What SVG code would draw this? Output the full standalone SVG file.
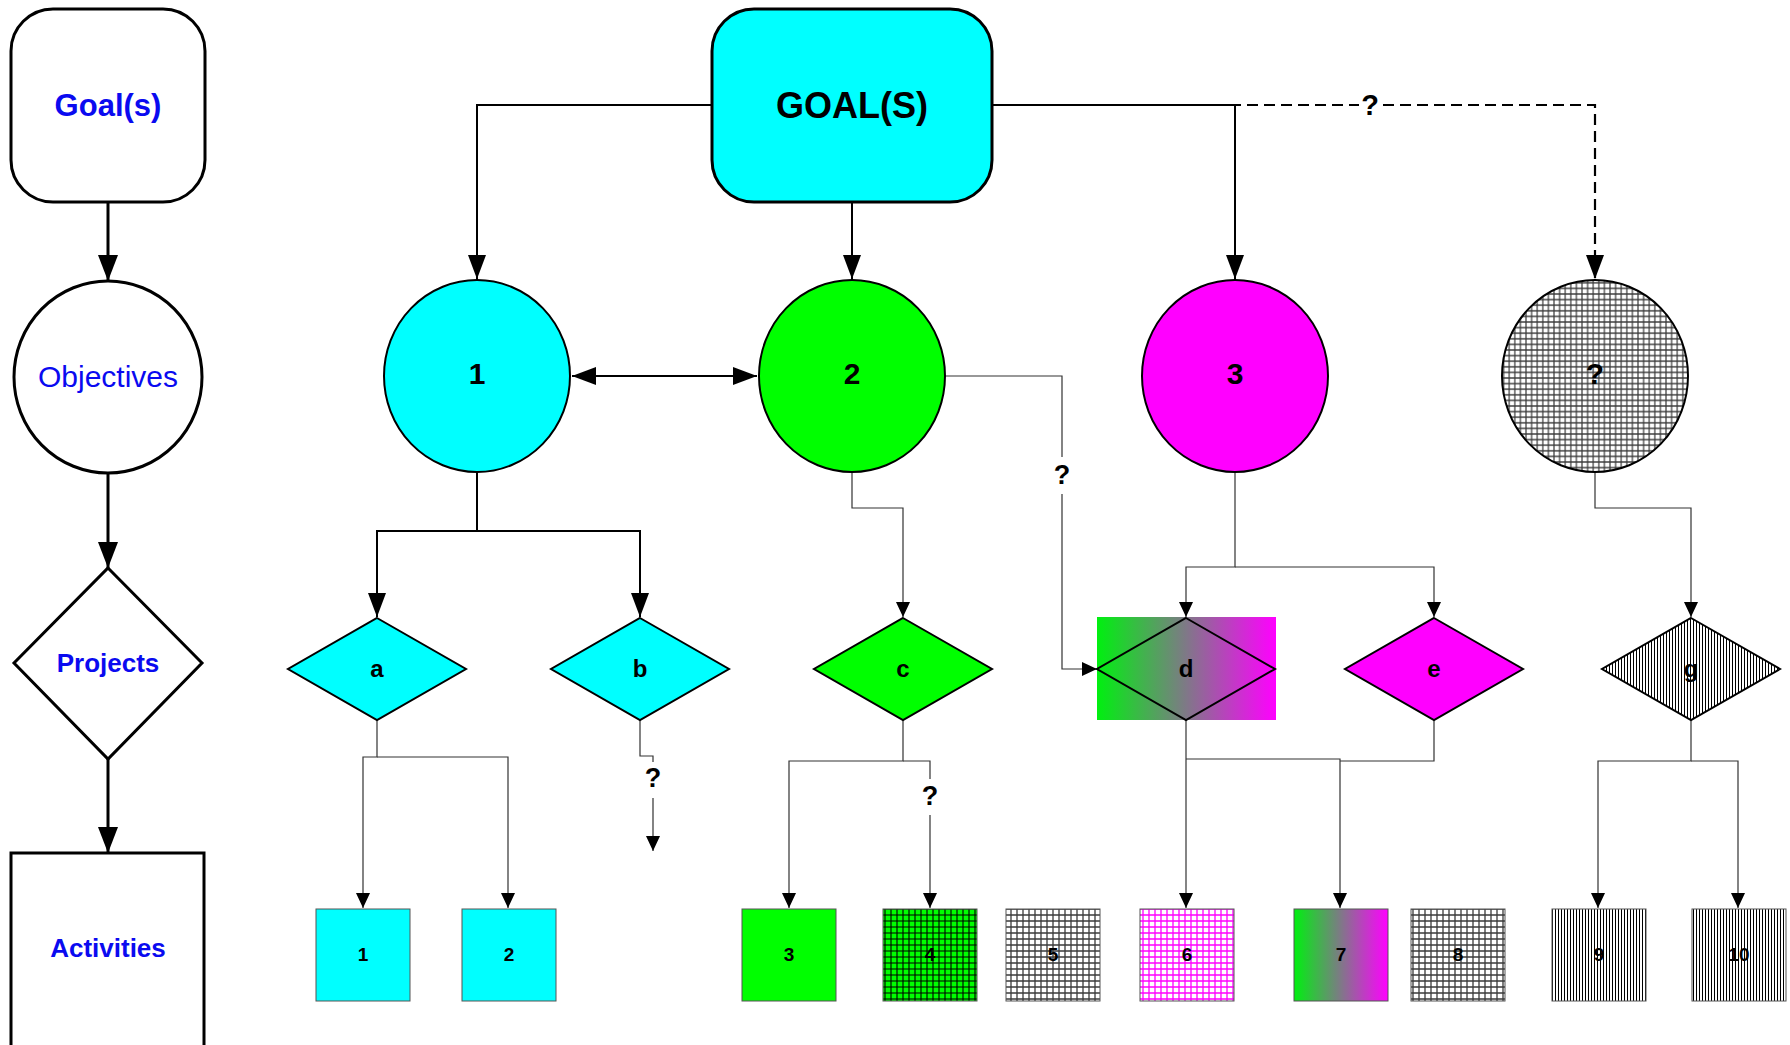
<svg xmlns="http://www.w3.org/2000/svg" width="1790" height="1045" viewBox="0 0 1790 1045">
  <style>
    .lbl-blue { font-family: "Liberation Sans", Arial, sans-serif; fill: #0a0af0; text-anchor: middle; }
    .lbl { font-family: "Liberation Sans", Arial, sans-serif; font-weight: bold; fill: #000; text-anchor: middle; }
    .legend { fill: #fff; stroke: #000; stroke-width: 3; }
    .shape { stroke: #000; stroke-width: 2; }
    .box { stroke: #555; stroke-width: 1; }
    .leg-link { fill: none; stroke: #000; stroke-width: 3; }
    .main-link { fill: none; stroke: #000; stroke-width: 2; }
    .thin-link { fill: none; stroke: #333; stroke-width: 1.2; }
    .dashed { stroke-width: 2.2; stroke-dasharray: 11 6; }
  </style>
  <defs>
    <marker id="arrowBig" markerUnits="userSpaceOnUse" markerWidth="26" markerHeight="20" refX="26" refY="10" orient="auto">
      <path d="M0,0 L26,10 L0,20 Z" fill="#000"/>
    </marker>
    <marker id="arrowMed" markerUnits="userSpaceOnUse" markerWidth="24" markerHeight="18" refX="24" refY="9" orient="auto">
      <path d="M0,0 L24,9 L0,18 Z" fill="#000"/>
    </marker>
    <marker id="arrowMedStart" markerUnits="userSpaceOnUse" markerWidth="24" markerHeight="18" refX="0" refY="9" orient="auto">
      <path d="M24,0 L0,9 L24,18 Z" fill="#000"/>
    </marker>
    <marker id="arrowSmall" markerUnits="userSpaceOnUse" markerWidth="15" markerHeight="14" refX="15" refY="7" orient="auto">
      <path d="M0,0 L15,7 L0,14 Z" fill="#000"/>
    </marker>
    <pattern id="gridGrey" patternUnits="userSpaceOnUse" width="6" height="6">
      <rect width="6" height="6" fill="#fff"/>
      <path d="M0,3H6M3,0V6" stroke="#3a3a3a" stroke-width="1.3"/>
    </pattern>
    <pattern id="gridCircle" patternUnits="userSpaceOnUse" width="5.6" height="5.6">
      <rect width="5.6" height="5.6" fill="#fff"/>
      <path d="M0,2.8H5.6M2.8,0V5.6" stroke="#3a3a3a" stroke-width="1.2"/>
    </pattern>
    <pattern id="gridGreen" patternUnits="userSpaceOnUse" width="6" height="6">
      <rect width="6" height="6" fill="#00ff00"/>
      <path d="M0,3H6M3,0V6" stroke="#000" stroke-width="1.1"/>
    </pattern>
    <pattern id="gridMagenta" patternUnits="userSpaceOnUse" width="6" height="6">
      <rect width="6" height="6" fill="#fff"/>
      <path d="M0,3H6M3,0V6" stroke="#ff00ff" stroke-width="1.3"/>
    </pattern>
    <pattern id="stripes" patternUnits="userSpaceOnUse" width="3" height="3">
      <rect width="3" height="3" fill="#fff"/>
      <path d="M1.5,0V3" stroke="#000" stroke-width="1"/>
    </pattern>
    <linearGradient id="greenMagenta" x1="0" y1="0" x2="1" y2="0">
      <stop offset="0" stop-color="#00f010"/>
      <stop offset="1" stop-color="#ff00ff"/>
    </linearGradient>
  </defs>

  <!-- legend column connectors -->
  <g id="legend-connectors">
    <path class="leg-link" d="M108,202 V281" marker-end="url(#arrowBig)"/>
    <path class="leg-link" d="M108,473 V568" marker-end="url(#arrowBig)"/>
    <path class="leg-link" d="M108,759 V853" marker-end="url(#arrowBig)"/>
  </g>

  <!-- legend column nodes -->
  <g id="legend-goals">
    <rect class="legend" x="11" y="9" width="194" height="193" rx="42"/>
    <text class="lbl-blue" x="108" y="116" font-size="31" font-weight="bold">Goal(s)</text>
  </g>
  <g id="legend-objectives">
    <ellipse class="legend" cx="108" cy="377" rx="94" ry="96"/>
    <text class="lbl-blue" x="108" y="387" font-size="30">Objectives</text>
  </g>
  <g id="legend-projects">
    <polygon class="legend" points="108,568 202,663 108,759 14,663"/>
    <text class="lbl-blue" x="108" y="672" font-size="26" font-weight="bold">Projects</text>
  </g>
  <g id="legend-activities">
    <rect class="legend" x="11" y="853" width="193" height="210"/>
    <text class="lbl-blue" x="108" y="957" font-size="26" font-weight="bold">Activities</text>
  </g>

  <!-- main tree connectors -->
  <g id="connectors">
    <path class="main-link" d="M712,105 H477 V279" marker-end="url(#arrowMed)"/>
    <path class="main-link" d="M852,202 V279" marker-end="url(#arrowMed)"/>
    <path class="main-link dashed" d="M992,105 H1595 V279" marker-end="url(#arrowMed)"/>
    <path class="main-link" d="M992,105 H1235 V279" marker-end="url(#arrowMed)"/>
    <path class="main-link" d="M572,376 H757" marker-start="url(#arrowMedStart)" marker-end="url(#arrowMed)"/>

    <path class="thin-link" d="M945,376 H1062 V669 H1097" marker-end="url(#arrowSmall)"/>

    <path class="main-link" d="M477,472 V531 H377 V617" marker-end="url(#arrowMed)"/>
    <path class="main-link" d="M477,531 H640 V617" marker-end="url(#arrowMed)"/>

    <path class="thin-link" d="M852,472 V508 H903 V617" marker-end="url(#arrowSmall)"/>
    <path class="thin-link" d="M1235,472 V567 H1186 V617" marker-end="url(#arrowSmall)"/>
    <path class="thin-link" d="M1235,567 H1434 V617" marker-end="url(#arrowSmall)"/>
    <path class="thin-link" d="M1595,472 V508 H1691 V617" marker-end="url(#arrowSmall)"/>

    <path class="thin-link" d="M377,720 V757 H363 V908" marker-end="url(#arrowSmall)"/>
    <path class="thin-link" d="M377,757 H508 V908" marker-end="url(#arrowSmall)"/>
    <path class="thin-link" d="M640,720 V756 H653 V851" marker-end="url(#arrowSmall)"/>
    <path class="thin-link" d="M903,720 V761 H789 V908" marker-end="url(#arrowSmall)"/>
    <path class="thin-link" d="M903,761 H930 V908" marker-end="url(#arrowSmall)"/>
    <path class="thin-link" d="M1186,720 V908" marker-end="url(#arrowSmall)"/>
    <path class="thin-link" d="M1186,759 H1340 V908" marker-end="url(#arrowSmall)"/>
    <path class="thin-link" d="M1434,720 V761 H1340"/>
    <path class="thin-link" d="M1691,720 V761 H1598 V908" marker-end="url(#arrowSmall)"/>
    <path class="thin-link" d="M1691,761 H1738 V908" marker-end="url(#arrowSmall)"/>

    <!-- uncertain-link labels -->
    <rect x="1359" y="88" width="22" height="34" fill="#fff"/>
    <text class="lbl" x="1370" y="115" font-size="29">?</text>
    <rect x="1051" y="457" width="22" height="37" fill="#fff"/>
    <text class="lbl" x="1062" y="484" font-size="27">?</text>
    <rect x="642" y="762" width="22" height="36" fill="#fff"/>
    <text class="lbl" x="653" y="787" font-size="27">?</text>
    <rect x="919" y="779" width="22" height="36" fill="#fff"/>
    <text class="lbl" x="930" y="805" font-size="27">?</text>
  </g>

  <!-- goal -->
  <g id="goal">
    <rect x="712" y="9" width="280" height="193" rx="42" fill="#00ffff" stroke="#000" stroke-width="3"/>
    <text class="lbl" x="852" y="118" font-size="36">GOAL(S)</text>
  </g>

  <!-- objectives -->
  <g id="objective-1">
    <ellipse class="shape" cx="477" cy="376" rx="93" ry="96" fill="#00ffff"/>
    <text class="lbl" x="477" y="384" font-size="30">1</text>
  </g>
  <g id="objective-2">
    <ellipse class="shape" cx="852" cy="376" rx="93" ry="96" fill="#00ff00"/>
    <text class="lbl" x="852" y="384" font-size="30">2</text>
  </g>
  <g id="objective-3">
    <ellipse class="shape" cx="1235" cy="376" rx="93" ry="96" fill="#ff00ff"/>
    <text class="lbl" x="1235" y="384" font-size="30">3</text>
  </g>
  <g id="objective-unknown">
    <ellipse class="shape" cx="1595" cy="376" rx="93" ry="96" fill="url(#gridCircle)"/>
    <text class="lbl" x="1595" y="384" font-size="30">?</text>
  </g>

  <!-- projects -->
  <g id="project-a">
    <polygon class="shape" points="377,618 466,669 377,720 288,669" fill="#00ffff"/>
    <text class="lbl" x="377" y="677" font-size="24">a</text>
  </g>
  <g id="project-b">
    <polygon class="shape" points="640,618 729,669 640,720 551,669" fill="#00ffff"/>
    <text class="lbl" x="640" y="677" font-size="24">b</text>
  </g>
  <g id="project-c">
    <polygon class="shape" points="903,618 992,669 903,720 814,669" fill="#00ff00"/>
    <text class="lbl" x="903" y="677" font-size="24">c</text>
  </g>
  <g id="project-d">
    <rect x="1097" y="617" width="179" height="103" fill="url(#greenMagenta)"/>
    <polygon class="shape" points="1186,618 1275,669 1186,720 1097,669" fill="none"/>
    <text class="lbl" x="1186" y="677" font-size="24">d</text>
  </g>
  <g id="project-e">
    <polygon class="shape" points="1434,618 1523,669 1434,720 1345,669" fill="#ff00ff"/>
    <text class="lbl" x="1434" y="677" font-size="24">e</text>
  </g>
  <g id="project-g">
    <polygon class="shape" points="1691,618 1780,669 1691,720 1602,669" fill="url(#stripes)"/>
    <text class="lbl" x="1691" y="677" font-size="24">g</text>
  </g>

  <!-- activities -->
  <g id="activity-1">
    <rect class="box" x="316" y="909" width="94" height="92" fill="#00ffff"/>
    <text class="lbl" x="363" y="961" font-size="19">1</text>
  </g>
  <g id="activity-2">
    <rect class="box" x="462" y="909" width="94" height="92" fill="#00ffff"/>
    <text class="lbl" x="509" y="961" font-size="19">2</text>
  </g>
  <g id="activity-3">
    <rect class="box" x="742" y="909" width="94" height="92" fill="#00ff00"/>
    <text class="lbl" x="789" y="961" font-size="19">3</text>
  </g>
  <g id="activity-4">
    <rect class="box" x="883" y="909" width="94" height="92" fill="url(#gridGreen)"/>
    <text class="lbl" x="930" y="961" font-size="19">4</text>
  </g>
  <g id="activity-5">
    <rect class="box" x="1006" y="909" width="94" height="92" fill="url(#gridGrey)"/>
    <text class="lbl" x="1053" y="961" font-size="19">5</text>
  </g>
  <g id="activity-6">
    <rect class="box" x="1140" y="909" width="94" height="92" fill="url(#gridMagenta)"/>
    <text class="lbl" x="1187" y="961" font-size="19">6</text>
  </g>
  <g id="activity-7">
    <rect class="box" x="1294" y="909" width="94" height="92" fill="url(#greenMagenta)"/>
    <text class="lbl" x="1341" y="961" font-size="19">7</text>
  </g>
  <g id="activity-8">
    <rect class="box" x="1411" y="909" width="94" height="92" fill="url(#gridGrey)"/>
    <text class="lbl" x="1458" y="961" font-size="19">8</text>
  </g>
  <g id="activity-9">
    <rect class="box" x="1552" y="909" width="94" height="92" fill="url(#stripes)"/>
    <text class="lbl" x="1599" y="961" font-size="19">9</text>
  </g>
  <g id="activity-10">
    <rect class="box" x="1692" y="909" width="94" height="92" fill="url(#stripes)"/>
    <text class="lbl" x="1739" y="961" font-size="19">10</text>
  </g>
</svg>
